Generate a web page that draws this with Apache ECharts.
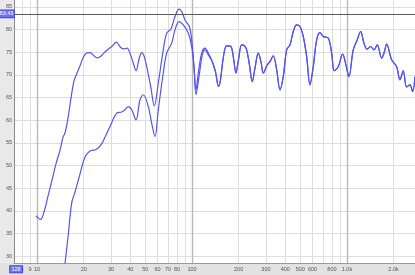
<!DOCTYPE html>
<html>
<head>
<meta charset="utf-8">
<script src="https://cdn.jsdelivr.net/npm/echarts@6/dist/echarts.min.js"></script>
<style>
html,body{margin:0;padding:0;background:#fff;}
#c{width:415px;height:275px;}
</style>
</head>
<body>
<div id="c"></div>
<script>
// ---- data ----
const freqA = [9.85, 10.53, 11.1, 11.78, 12.5, 13.26, 14.07, 14.72, 15.16, 15.85, 16.57, 17.33, 18.12, 18.94, 19.95, 21.02, 21.98, 22.97, 24.39, 25.5, 27.06, 28.72, 30.47, 32.58, 34.31, 36.15, 38.08, 40.1, 41.94, 43.52, 45.71, 47.37, 49.0, 51.03, 54.15, 57.13, 60.62, 65.27, 68.68, 73.18, 77.68, 82.44, 85.81, 90.12, 96.07, 99.56, 103.0, 106.1, 109.8, 115.5, 121.3, 127.4, 135.2];
const dbA = [38.9, 38.1, 39.8, 43.3, 46.8, 50.4, 53.4, 56.3, 57.2, 60.5, 64.9, 68.7, 70.4, 72.0, 74.0, 74.85, 74.9, 74.4, 73.75, 73.96, 74.85, 75.6, 76.3, 77.2, 76.2, 75.7, 75.9, 74.4, 72.4, 70.9, 73.7, 74.9, 74.2, 71.8, 67.4, 63.15, 68.2, 75.5, 79.2, 80.1, 82.85, 84.5, 83.95, 82.1, 80.65, 77.7, 71.8, 66.7, 70.4, 74.8, 75.9, 74.8, 72.9];

const freqB = [14.83, 15.16, 15.92, 16.75, 17.59, 18.94, 20.4, 21.98, 24.02, 25.87, 27.87, 29.58, 32.68, 35.2, 36.96, 38.82, 40.83, 43.52, 46.18, 48.5, 52.26, 54.95, 57.7, 60.62, 65.27, 68.68, 73.96, 77.68, 82.44, 87.86, 94.65, 99.56, 103.0, 106.1, 111.0, 116.6, 121.3, 127.4, 135.2];
const dbB = [25.9, 28.5, 34.9, 41.8, 44.2, 48.15, 51.9, 53.2, 53.55, 54.55, 56.75, 58.6, 61.55, 61.8, 62.3, 63.0, 62.3, 60.05, 64.5, 65.6, 63.0, 59.3, 56.4, 62.3, 70.4, 74.8, 77.0, 79.9, 81.75, 81.0, 79.2, 76.2, 71.8, 65.6, 69.6, 74.4, 75.5, 74.4, 72.9];

// above ~140 Hz both traces coincide
const freqHi = [141.8, 148.3, 152.7, 159.2, 167.4, 177.7, 185.2, 192.2, 199.5, 209.3, 218.2, 225.4, 234.9, 244.9, 255.0, 267.8, 278.7, 288.4, 306.0, 318.5, 334.5, 352.0, 369.6, 388.2, 408.3, 428.9, 450.4, 473.8, 497.5, 522.6, 549.6, 577.2, 606.2, 637.6, 669.6, 703.3, 757.7, 796.9, 828.4, 878.9, 938.2, 985.2, 1030, 1098, 1165, 1226, 1287, 1352, 1422, 1494, 1569, 1675, 1746, 1804, 1943, 2093, 2198, 2308, 2428, 2550, 2655, 2746];
const dbHi = [70.65, 67.45, 68.9, 73.75, 76.4, 76.3, 73.75, 70.4, 73.3, 76.6, 76.4, 75.5, 72.2, 68.5, 71.5, 74.8, 72.9, 70.4, 72.2, 72.9, 74.2, 71.1, 66.7, 69.6, 75.5, 76.6, 79.55, 81.0, 80.65, 78.45, 74.0, 67.8, 71.8, 77.7, 79.3, 78.45, 78.1, 74.8, 70.9, 71.8, 74.55, 72.2, 69.6, 75.5, 77.7, 79.55, 77.0, 75.65, 76.25, 75.5, 76.6, 73.7, 75.1, 76.8, 73.3, 71.8, 68.9, 70.9, 67.3, 67.8, 66.3, 69.6];

const xGridValues = [8, 9, 10, 20, 30, 40, 50, 60, 70, 80, 90, 100, 200, 300, 400, 500, 600, 700, 800, 900, 1000, 2000];
const xDecadeValues = [10, 100, 1000];
const xLabelValues = [8, 9, 10, 20, 30, 40, 50, 60, 70, 80, 100, 200, 300, 400, 500, 600, 800, 1000, 2000];
const xLabelTexts = ['8', '9', '10', '20', '30', '40', '50', '60', '70', '80', '100', '200', '300', '400', '500', '600', '800', '1.0k', '2.0k'];
const yTickValues = [30, 35, 40, 45, 50, 55, 60, 65, 70, 75, 80, 85];
const cursorLevel = 83.45;
const cursorFreqText = '128';

const xMin = 7.1, xMax = 2750, yMin = 28.5, yMax = 86.5;

function pairs(f, d) { return f.map((v, i) => [v, d[i]]); }
const seriesA = pairs(freqA, dbA).concat(pairs(freqHi, dbHi));
const seriesB = pairs(freqB, dbB).concat(pairs(freqHi, dbHi));

const font = 'Liberation Sans, Arial, sans-serif';
const chart = echarts.init(document.getElementById('c'), null, {renderer: 'canvas'});
chart.setOption({
  animation: false,
  backgroundColor: '#ffffff',
  graphic: [
    {type: 'rect', z: -100, shape: {x: 0, y: 0, width: 14, height: 263}, style: {fill: '#e9e9e9'}},
    {type: 'rect', z: -100, shape: {x: 0, y: 263, width: 415, height: 12}, style: {fill: '#e2e2e2'}},
    {type: 'text', z: 100, x: 10, y: 266, style: {text: cursorFreqText, fontSize: 5.5, fontFamily: font, fill: '#ffffff',
      backgroundColor: '#6f6ff5', borderColor: '#3c3ce8', borderWidth: 0.8, padding: [0.5, 1.5, 0, 1.5]}}
  ],
  grid: {left: 14, right: 0, top: 0, bottom: 12, containLabel: false, show: true, backgroundColor: '#ffffff', borderWidth: 0},
  xAxis: [
    {
      type: 'log', logBase: 10, min: xMin, max: xMax,
      axisLine: {show: true, onZero: false, lineStyle: {color: '#9a9a9a', width: 1}},
      axisTick: {show: false, customValues: xGridValues},
      splitLine: {show: true, lineStyle: {color: '#dedede', width: 1}},
      axisLabel: {
        show: true, customValues: xLabelValues, fontSize: 5.5, fontFamily: font, color: '#555', margin: 3,
        formatter: v => { const i = xLabelValues.findIndex(x => Math.abs(x - v) < 1e-6 * x); return i >= 0 ? xLabelTexts[i] : ''; }
      }
    },
    {
      type: 'log', logBase: 10, min: xMin, max: xMax, position: 'bottom',
      axisLine: {show: false},
      axisTick: {show: false, customValues: xDecadeValues},
      axisLabel: {show: false},
      splitLine: {show: true, lineStyle: {color: '#b9b9b9', width: 1.4}}
    }
  ],
  yAxis: {
    type: 'value', min: yMin, max: yMax,
    axisLine: {show: true, lineStyle: {color: '#8a8a8a', width: 1}},
    axisTick: {show: false, customValues: yTickValues},
    splitLine: {show: true, lineStyle: {color: '#dedede', width: 1}},
    axisLabel: {customValues: yTickValues, fontSize: 5.5, fontFamily: font, color: '#555', margin: 2}
  },
  series: [
    {
      type: 'line', xAxisIndex: 0, data: seriesA, showSymbol: false, smooth: 0.35,
      lineStyle: {color: '#5454ee', width: 1.2}, z: 3,
      markLine: {
        silent: true, symbol: 'none', animation: false,
        data: [{yAxis: cursorLevel}],
        lineStyle: {color: '#5a5a5a', width: 1, type: 'solid'},
        label: {position: 'start', distance: 0, formatter: String(cursorLevel), fontSize: 5.5, fontFamily: font,
          color: '#ffffff', backgroundColor: '#6f6ff5', borderColor: '#3c3ce8', borderWidth: 0.8, padding: [1, 0.5, 0, 0.5]}
      }
    },
    {
      type: 'line', xAxisIndex: 0, data: seriesB, showSymbol: false, smooth: 0.35,
      lineStyle: {color: '#5454ee', width: 1.2}, z: 3
    }
  ]
});
</script>
</body>
</html>
